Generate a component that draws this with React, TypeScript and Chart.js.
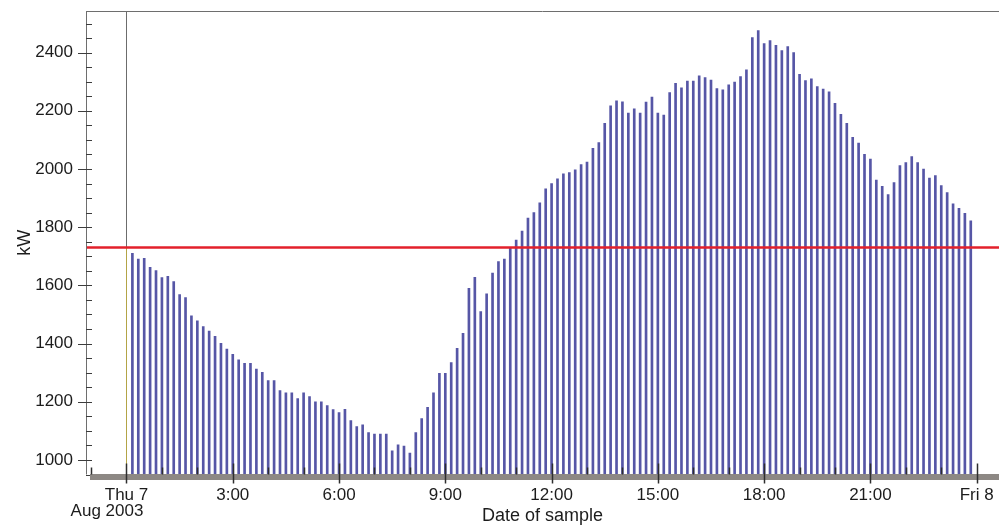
import { useEffect, useRef } from 'react';
import { Chart, registerables } from 'chart.js';

Chart.register(...registerables);

// Interval between samples, minutes (first sample at 0:10)
const SAMPLE_STEP_MIN = 10;

// Demand per 10-minute sample, kW (0:10 .. 23:50)
const LOAD_KW = [
  1710, 1690, 1693, 1662, 1651, 1627, 1631, 1613, 1568, 1558, 1495, 1478,
  1458, 1443, 1425, 1401, 1381, 1363, 1344, 1332, 1332, 1312, 1301, 1273,
  1273, 1238, 1231, 1231, 1211, 1231, 1218, 1200, 1200, 1187, 1173, 1163,
  1174, 1135, 1115, 1121, 1094, 1089, 1089, 1089, 1031, 1052, 1048, 1024,
  1094, 1142, 1181, 1231, 1298, 1298, 1335, 1384, 1435, 1590, 1628, 1510,
  1571, 1642, 1682, 1690, 1731, 1756, 1787, 1831, 1850, 1884, 1932, 1950,
  1966, 1983, 1988, 1997, 2015, 2024, 2071, 2091, 2157, 2217, 2234, 2231,
  2192, 2207, 2192, 2230, 2247, 2192, 2185, 2263, 2294, 2279, 2302, 2302,
  2320, 2314, 2306, 2276, 2272, 2289, 2299, 2318, 2341, 2452, 2476, 2431,
  2441, 2425, 2407, 2421, 2400, 2325, 2304, 2310, 2283, 2275, 2265, 2226,
  2188, 2157, 2109, 2089, 2050, 2034, 1962, 1940, 1912, 1953, 2012, 2022,
  2043, 2022, 2000, 1969, 1977, 1943, 1919, 1880, 1865, 1848, 1822,
];

// Contracted demand limit, kW
const LIMIT_KW = 1730;

// Labelled hour ticks on the time axis
const HOUR_LABEL_AT = [0, 3, 6, 9, 12, 15, 18, 21, 24];
const HOUR_LABELS = ['Thu 7', '3:00', '6:00', '9:00', '12:00', '15:00', '18:00', '21:00', 'Fri 8'];
const DATE_CAPTION = 'Aug 2003';

// Visible window (hours from Thu 7 00:00) and demand range
const X_MIN = -1.143;
const X_MAX = 24.63;
const Y_MIN = 950;
const Y_MAX = 2543;
const Y_MAJOR = 200;
const Y_MINOR = 50;

const FONT = "'Liberation Sans', Arial, sans-serif";
const TEXT = '#1c1c1c';
const BAR = 'rgb(86, 86, 166)';
const LIMIT = '#e3202b';

const line = (ctx: CanvasRenderingContext2D, x1: number, y1: number, x2: number, y2: number) => {
  ctx.beginPath();
  ctx.moveTo(x1, y1);
  ctx.lineTo(x2, y2);
  ctx.stroke();
};

// Day-start cursor drawn behind the series
const cursorPlugin = {
  id: 'dayCursor',
  beforeDatasetsDraw(chart: any) {
    const { ctx, chartArea: a, scales } = chart;
    const px = Math.round(scales.x.getPixelForValue(0)) + 0.5;
    const py = scales.y.getPixelForValue(LIMIT_KW);
    ctx.save();
    ctx.lineWidth = 1;
    ctx.strokeStyle = '#6c6c6c';
    line(ctx, px, a.top, px, py);
    ctx.strokeStyle = '#b3a446';
    line(ctx, px, py, px, a.bottom);
    ctx.restore();
  },
};

// Frame, axis band and tick marks
const framePlugin = {
  id: 'axisFrame',
  afterDraw(chart: any) {
    const { ctx, chartArea: a, scales } = chart;
    const xs = scales.x;
    const ys = scales.y;
    ctx.save();
    ctx.lineWidth = 1;
    ctx.strokeStyle = '#6e6e6e';
    line(ctx, a.left, a.top + 0.5, a.right, a.top + 0.5);
    line(ctx, a.left + 0.5, a.top, a.left + 0.5, a.bottom);

    ctx.strokeStyle = '#3c3c3c';
    ys.ticks.forEach((t: any) => {
      const py = Math.round(ys.getPixelForValue(t.value)) + 0.5;
      if (Math.abs(t.value % Y_MAJOR) < 1e-6) line(ctx, a.left - 8, py, a.left + 6, py);
      else line(ctx, a.left, py, a.left + 6, py);
    });

    ctx.fillStyle = '#8d8884';
    ctx.fillRect(a.left + 4, a.bottom - 0.5, a.right - a.left - 4, 6);

    ctx.strokeStyle = '#2e2e2e';
    ctx.lineWidth = 1.5;
    xs.ticks.forEach((t: any) => {
      const px = Math.round(xs.getPixelForValue(t.value)) + 0.5;
      if (HOUR_LABEL_AT.includes(t.value)) line(ctx, px, a.bottom - 11, px, a.bottom + 9);
      else line(ctx, px, a.bottom - 7, px, a.bottom);
    });

    ctx.fillStyle = TEXT;
    ctx.font = `17px ${FONT}`;
    ctx.textAlign = 'center';
    ctx.textBaseline = 'alphabetic';
    ctx.fillText(DATE_CAPTION, 107, 516);
    ctx.restore();
  },
};

export default function App() {
  const canvasRef = useRef<HTMLCanvasElement | null>(null);

  useEffect(() => {
    const canvas = canvasRef.current;
    if (!canvas) return;

    const bars = LOAD_KW.map((v, i) => ({ x: ((i + 1) * SAMPLE_STEP_MIN) / 60, y: v }));

    const chart = new Chart(canvas, {
      type: 'bar',
      data: {
        datasets: [
          {
            type: 'line',
            label: 'Limit',
            data: [
              { x: X_MIN, y: LIMIT_KW },
              { x: X_MAX, y: LIMIT_KW },
            ],
            borderColor: LIMIT,
            borderWidth: 2.5,
            pointRadius: 0,
            order: 0,
          } as any,
          {
            type: 'bar',
            label: 'kW',
            data: bars,
            backgroundColor: BAR,
            borderWidth: 0,
            barThickness: 2,
            order: 1,
          } as any,
        ],
      },
      options: {
        responsive: false,
        animation: false,
        devicePixelRatio: 1,
        layout: { padding: { top: 11, right: 0, left: 0, bottom: 0 } },
        plugins: {
          legend: { display: false },
          tooltip: { enabled: false },
        },
        scales: {
          x: {
            type: 'linear',
            min: X_MIN,
            max: X_MAX,
            offset: false,
            grid: { display: false, drawTicks: false },
            border: { display: false },
            ticks: {
              stepSize: 1,
              includeBounds: false,
              autoSkip: false,
              maxRotation: 0,
              minRotation: 0,
              padding: 11,
              color: TEXT,
              font: { family: FONT, size: 17 },
              callback: (v: any) => {
                const k = HOUR_LABEL_AT.indexOf(Number(v));
                return k >= 0 ? HOUR_LABELS[k] : '';
              },
            },
            title: {
              display: true,
              text: 'Date of sample',
              color: TEXT,
              font: { family: FONT, size: 18, lineHeight: 1 },
              padding: { top: 0, bottom: 0 },
            },
            afterFit: (s: any) => {
              s.height = 50.5;
              s.paddingLeft = 0;
              s.paddingRight = 0;
            },
          },
          y: {
            type: 'linear',
            min: Y_MIN,
            max: Y_MAX,
            grid: { display: false, drawTicks: false },
            border: { display: false },
            ticks: {
              stepSize: Y_MINOR,
              includeBounds: false,
              autoSkip: false,
              padding: 13,
              color: TEXT,
              font: { family: FONT, size: 17 },
              callback: (v: any) => (Math.abs(Number(v) % Y_MAJOR) < 1e-6 ? String(v) : ''),
            },
            title: {
              display: true,
              text: 'kW',
              color: TEXT,
              font: { family: FONT, size: 18 },
              padding: { top: 14, bottom: 0 },
            },
            afterFit: (s: any) => {
              s.width = 86;
              s.paddingTop = 0;
              s.paddingBottom = 0;
            },
          },
        },
      },
      plugins: [cursorPlugin, framePlugin],
    });

    return () => chart.destroy();
  }, []);

  return (
    <div style={{ position: 'absolute', left: 0, top: 0, width: 999, height: 525, background: '#fff' }}>
      <canvas ref={canvasRef} width={999} height={525} />
    </div>
  );
}
